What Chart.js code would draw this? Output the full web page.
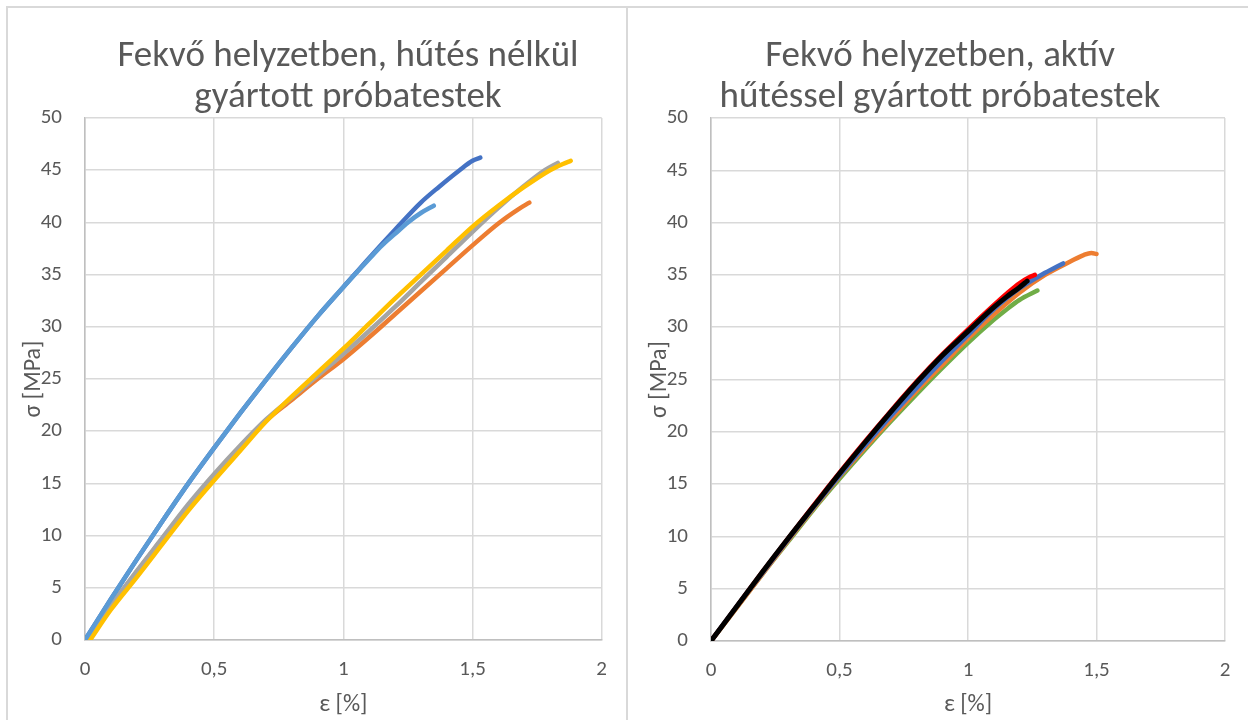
<!DOCTYPE html>
<html>
<head>
<meta charset="utf-8">
<script src="https://cdn.jsdelivr.net/npm/chart.js@4.4.0/dist/chart.umd.min.js"></script>
<style>
  html, body { margin: 0; padding: 0; background: #ffffff; width: 1248px; height: 720px; overflow: hidden; }
  .frame { position: absolute; border: 2px solid #d9d9d9; box-sizing: border-box; }
  #frameL { left: 6px; top: 6px; width: 622px; height: 740px; }
  #frameR { left: 626px; top: 6px; width: 700px; height: 740px; }
  canvas { position: absolute; top: 0; }
  #chartL { left: 0; }
  #chartR { left: 624px; }
</style>
</head>
<body>
<div class="frame" id="frameL"></div>
<div class="frame" id="frameR"></div>
<canvas id="chartL" width="624" height="720"></canvas>
<canvas id="chartR" width="624" height="720"></canvas>
<script>
const FONT = "Carlito, Calibri, Lato, 'Open Sans', sans-serif";
const TEXT = '#595959';

// Axis ticks
const strainTicks = [0, 0.5, 1, 1.5, 2];
const stressTicks = [0, 5, 10, 15, 20, 25, 30, 35, 40, 45, 50];

// Titles
const titleLeft = ['Fekvő helyzetben, hűtés nélkül', 'gyártott próbatestek'];
const titleRight = ['Fekvő helyzetben, aktív', 'hűtéssel gyártott próbatestek'];
const xAxisTitle = 'ε [%]';
const yAxisTitle = 'σ [MPa]';

// Specimens printed lying flat, without cooling: [strain %, stress MPa]
const nelkul1 = [[0,0],[0.1,3.9],[0.2,7.7],[0.3,11.4],[0.4,15.0],[0.5,18.4],[0.6,21.7],[0.7,24.9],[0.8,28.0],[0.9,31.0],[1.0,33.8],[1.1,36.6],[1.2,39.3],[1.3,41.9],[1.37,43.4],[1.45,45.0],[1.5,45.9],[1.53,46.2]];
const nelkul2 = [[0.01,0],[0.1,3.2],[0.2,6.5],[0.3,9.7],[0.4,12.8],[0.5,15.7],[0.6,18.4],[0.7,21.0],[0.8,23.0],[0.9,25.0],[1.0,26.9],[1.1,29.0],[1.2,31.2],[1.3,33.4],[1.4,35.6],[1.5,37.8],[1.6,39.9],[1.68,41.3],[1.72,41.9]];
const nelkul3 = [[0.005,0],[0.1,3.3],[0.2,6.6],[0.3,9.8],[0.4,13.0],[0.5,15.9],[0.6,18.6],[0.7,21.1],[0.8,23.2],[0.9,25.3],[1.0,27.4],[1.1,29.6],[1.2,31.9],[1.3,34.3],[1.4,36.7],[1.5,39.1],[1.6,41.4],[1.7,43.5],[1.78,45.0],[1.83,45.7]];
const nelkul4 = [[0.02,0],[0.1,2.9],[0.2,6.0],[0.3,9.2],[0.4,12.4],[0.5,15.3],[0.6,18.1],[0.7,20.9],[0.8,23.3],[0.9,25.6],[1.0,27.9],[1.1,30.3],[1.2,32.7],[1.3,35.0],[1.4,37.3],[1.5,39.6],[1.6,41.6],[1.7,43.4],[1.8,45.0],[1.85,45.6],[1.88,45.9]];
const nelkul5 = [[0,0],[0.1,3.9],[0.2,7.7],[0.3,11.4],[0.4,15.0],[0.5,18.4],[0.6,21.7],[0.7,24.9],[0.8,28.0],[0.9,31.0],[1.0,33.8],[1.1,36.5],[1.15,37.8],[1.2,38.9],[1.25,40.0],[1.3,40.9],[1.35,41.6]];

// Specimens printed lying flat, with active cooling: [strain %, stress MPa]
const aktiv1 = [[0,0],[0.1,3.3],[0.2,6.5],[0.3,9.7],[0.4,12.8],[0.5,15.8],[0.6,18.7],[0.7,21.5],[0.8,24.2],[0.9,26.8],[1.0,29.25],[1.1,31.7],[1.2,33.7],[1.3,35.2],[1.37,36.1]];
const aktiv2 = [[0,0],[0.1,3.2],[0.2,6.4],[0.3,9.6],[0.4,12.7],[0.5,15.7],[0.6,18.5],[0.7,21.2],[0.8,23.9],[0.9,26.4],[1.0,28.9],[1.1,31.2],[1.2,33.3],[1.3,35.0],[1.4,36.3],[1.45,36.9],[1.48,37.1],[1.5,37.0]];
const aktiv3 = [[0,0],[0.1,3.2],[0.2,6.4],[0.3,9.5],[0.4,12.6],[0.5,15.5],[0.6,18.3],[0.7,21.0],[0.8,23.6],[0.9,26.1],[1.0,28.5],[1.1,30.7],[1.15,31.7],[1.2,32.6],[1.27,33.5]];
const aktiv4 = [[0,0],[0.1,3.3],[0.2,6.6],[0.3,9.8],[0.4,13.0],[0.5,16.1],[0.6,19.1],[0.7,22.0],[0.8,24.8],[0.9,27.4],[1.0,29.8],[1.1,32.1],[1.15,33.2],[1.2,34.2],[1.24,34.8],[1.26,35.0]];
const aktiv5 = [[0,0],[0.1,3.3],[0.2,6.6],[0.3,9.8],[0.4,12.9],[0.5,16.0],[0.6,19.0],[0.7,21.9],[0.8,24.7],[0.9,27.3],[1.0,29.6],[1.1,31.9],[1.15,32.9],[1.2,33.8],[1.23,34.4]];

// Two-line chart title drawn at a chosen centre
const twoLineTitle = {
  id: 'twoLineTitle',
  afterDraw(chart, args, opts) {
    const ctx = chart.ctx;
    ctx.save();
    ctx.fillStyle = TEXT;
    ctx.font = opts.size + 'px ' + FONT;
    ctx.textAlign = 'center';
    ctx.textBaseline = 'middle';
    opts.lines.forEach((t, i) => ctx.fillText(t, opts.x, opts.y + i * opts.gap));
    ctx.restore();
  }
};

function series(points, color, order, width) {
  return {
    data: points.map(p => ({ x: p[0], y: p[1] })),
    borderColor: color,
    backgroundColor: color,
    borderWidth: width || 4.5,
    showLine: true,
    fill: false,
    order: order
  };
}

function makeChart(id, datasets, title, pad, xHeight) {
  const axisFont = { family: FONT, size: 21 };
  const titleFont = { family: FONT, size: 24 };
  return new Chart(document.getElementById(id), {
    type: 'scatter',
    data: { datasets: datasets },
    plugins: [twoLineTitle],
    options: {
      responsive: false,
      animation: false,
      devicePixelRatio: 1,
      layout: { padding: pad },
      plugins: {
        legend: { display: false },
        tooltip: { enabled: false },
        twoLineTitle: title
      },
      elements: {
        point: { radius: 0, hoverRadius: 0 },
        line: { borderCapStyle: 'round', borderJoinStyle: 'round', cubicInterpolationMode: 'monotone' }
      },
      scales: {
        x: {
          type: 'linear', min: 0, max: 2,
          afterBuildTicks: s => { s.ticks = strainTicks.map(v => ({ value: v })); },
          afterFit: s => { s.height = xHeight; },
          ticks: { padding: 17, color: TEXT, font: axisFont, callback: v => String(v).replace('.', ',') },
          grid: { color: '#d9d9d9', lineWidth: 1.5, drawTicks: false },
          border: { color: '#bfbfbf', width: 1.5 },
          title: { display: true, text: xAxisTitle, color: TEXT, font: titleFont, padding: { top: 0, bottom: 1 } }
        },
        y: {
          type: 'linear', min: 0, max: 50,
          afterBuildTicks: s => { s.ticks = stressTicks.map(v => ({ value: v })); },
          afterFit: s => { s.width = 65; },
          ticks: { padding: 23, color: TEXT, font: axisFont },
          grid: { color: '#d9d9d9', lineWidth: 1.5, drawTicks: false },
          border: { color: '#bfbfbf', width: 1.5 },
          title: { display: true, text: yAxisTitle, color: TEXT, font: titleFont, padding: { top: 0, bottom: 0 } }
        }
      }
    }
  });
}

makeChart('chartL', [
  series(nelkul1, '#4472C4', 5),
  series(nelkul2, '#ED7D31', 4),
  series(nelkul3, '#A5A5A5', 3),
  series(nelkul4, '#FFC000', 2),
  series(nelkul5, '#5B9BD5', 1)
], { lines: titleLeft, x: 348, y: 57, gap: 41, size: 37 },
   { left: 20, right: 20, top: 118, bottom: 0 }, 80);

makeChart('chartR', [
  series(aktiv1, '#4472C4', 3),
  series(aktiv2, '#ED7D31', 4),
  series(aktiv3, '#70AD47', 5),
  series(aktiv4, '#FF0000', 2),
  series(aktiv5, '#000000', 1, 5)
], { lines: titleRight, x: 316, y: 57, gap: 41, size: 37 },
   { left: 22, right: 23, top: 118, bottom: 0 }, 79);
</script>
</body>
</html>
